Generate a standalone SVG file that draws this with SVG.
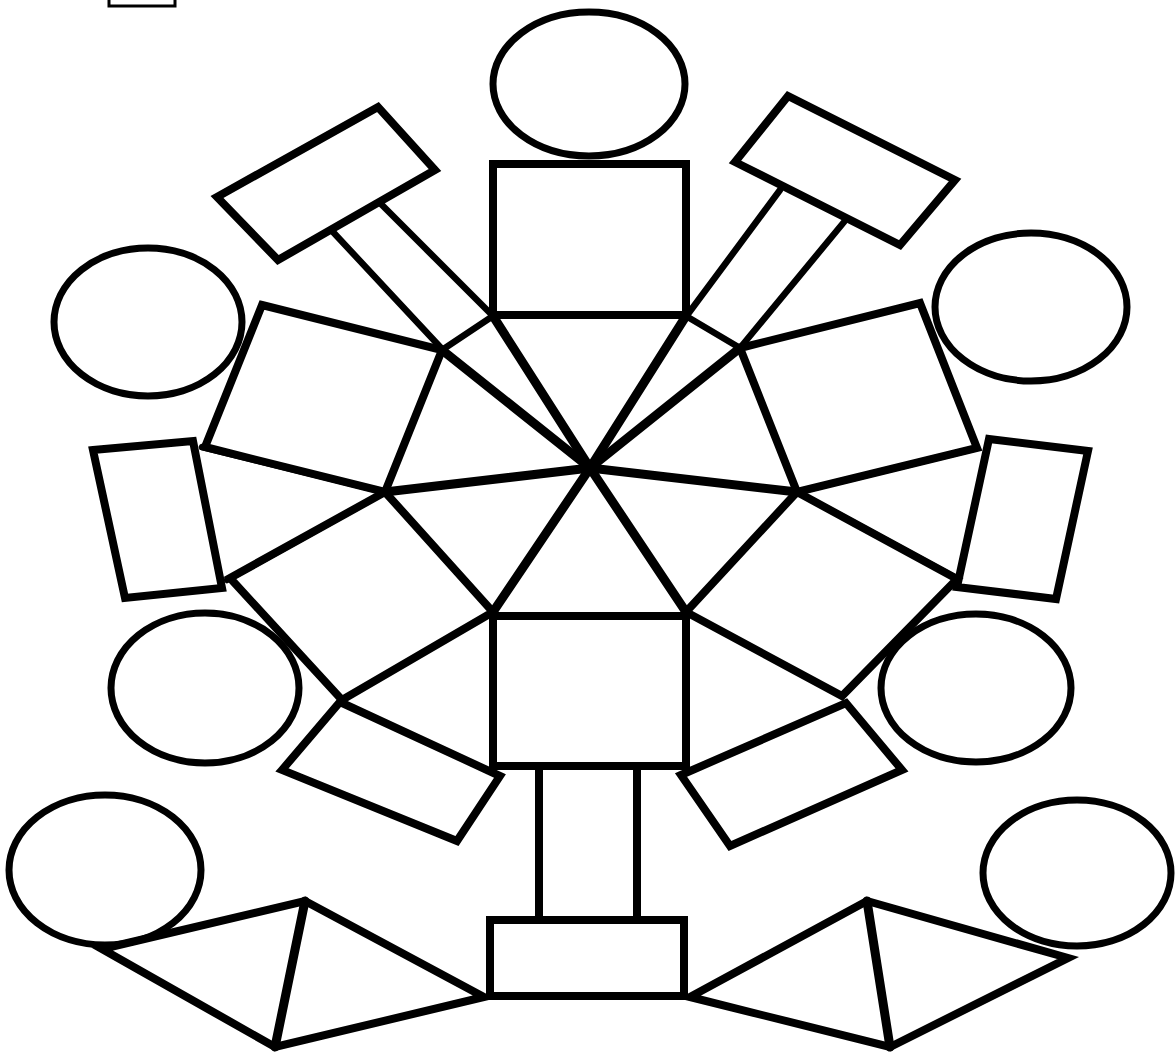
<svg xmlns="http://www.w3.org/2000/svg" width="1176" height="1053" viewBox="0 0 1176 1053">
<style>
.s{fill:none;stroke:#000;stroke-width:8;stroke-linejoin:miter;stroke-linecap:round}
.t{fill:none;stroke:#000;stroke-width:6.5;stroke-linecap:round}
.c{fill:none;stroke:#000;stroke-width:7}
.k{fill:none;stroke:#000;stroke-width:9;stroke-linecap:round}
</style>
<rect width="1176" height="1053" fill="#fff"/>
<rect x="109" y="-5" width="66" height="11" fill="none" stroke="#000" stroke-width="3"/>
<g id="circles">
<ellipse class="c" cx="589" cy="84" rx="96" ry="72"/>
<ellipse class="c" cx="148" cy="322" rx="94" ry="74"/>
<ellipse class="c" cx="1031" cy="307" rx="96" ry="74"/>
<ellipse class="c" cx="205" cy="688" rx="94" ry="75"/>
<ellipse class="c" cx="976" cy="688" rx="95" ry="74"/>
<ellipse class="c" cx="105" cy="870" rx="96" ry="75"/>
<ellipse class="c" cx="1077" cy="873" rx="94" ry="73"/>
</g>
<g id="connectors">
<line class="t" x1="333" y1="232" x2="443" y2="350"/>
<line class="t" x1="380" y1="203" x2="493" y2="316"/>
<line class="t" x1="780" y1="190" x2="688" y2="314"/>
<line class="t" x1="844" y1="222" x2="740" y2="348"/>
<line class="k" x1="590" y1="468" x2="493" y2="316"/>
<line class="k" x1="590" y1="468" x2="686" y2="316"/>
<line class="k" x1="590" y1="468" x2="442" y2="350"/>
<line class="k" x1="590" y1="468" x2="740" y2="348"/>
<line class="k" x1="590" y1="468" x2="385" y2="492"/>
<line class="k" x1="590" y1="468" x2="797" y2="492"/>
<line class="k" x1="590" y1="468" x2="493" y2="612"/>
<line class="k" x1="590" y1="468" x2="686" y2="612"/>
<line class="t" x1="493" y1="316" x2="442" y2="350"/>
<line class="t" x1="686" y1="316" x2="740" y2="348"/>
<line class="t" x1="202" y1="447" x2="385" y2="492"/>
<line class="t" x1="227" y1="580" x2="385" y2="492"/>
<line class="t" x1="977" y1="448" x2="797" y2="492"/>
<line class="t" x1="956" y1="578" x2="797" y2="492"/>
</g>
<g id="big-left-top"><polygon class="s" points="262,305 442,350 385,492 205,447"/></g>
<g id="big-left-bottom"><polygon class="s" points="230,578 385,492 493,612 342,700"/></g>
<g id="big-right-top"><polygon class="s" points="740,348 920,303 977,448 797,492"/></g>
<g id="big-right-bottom"><polygon class="s" points="797,492 957,579 842,696 686,612"/></g>
<g id="rect-top-left"><polygon class="s" points="217,197 378,107 435,170 278,260"/></g>
<g id="rect-top-right"><polygon class="s" points="735,162 788,96 955,180 900,245"/></g>
<g id="rect-left"><polygon class="s" points="93,450 193,441 222,588 125,598"/></g>
<g id="rect-right"><polygon class="s" points="989,439 1088,451 1056,599 957,587"/></g>
<g id="rect-low-left"><polygon class="s" points="282,770 340,702 500,776 457,841"/></g>
<g id="rect-low-right"><polygon class="s" points="681,775 846,703 902,770 730,846"/></g>
<g id="head-square"><rect class="s" x="493" y="164" width="193" height="151"/></g>
<g id="body-square"><rect class="s" x="493" y="616" width="193" height="150"/></g>
<g id="stem"><rect class="s" x="539" y="766" width="98" height="154"/></g>
<g id="base"><rect class="s" x="490" y="920" width="194" height="76"/></g>
<g id="kite-left"><polygon class="s" points="102,949 305,901 484,997 275,1047"/><line class="k" x1="305" y1="901" x2="275" y2="1047"/></g>
<g id="kite-right"><polygon class="s" points="690,997 867,901 1068,958 890,1047"/><line class="k" x1="867" y1="901" x2="890" y2="1047"/></g>
</svg>
